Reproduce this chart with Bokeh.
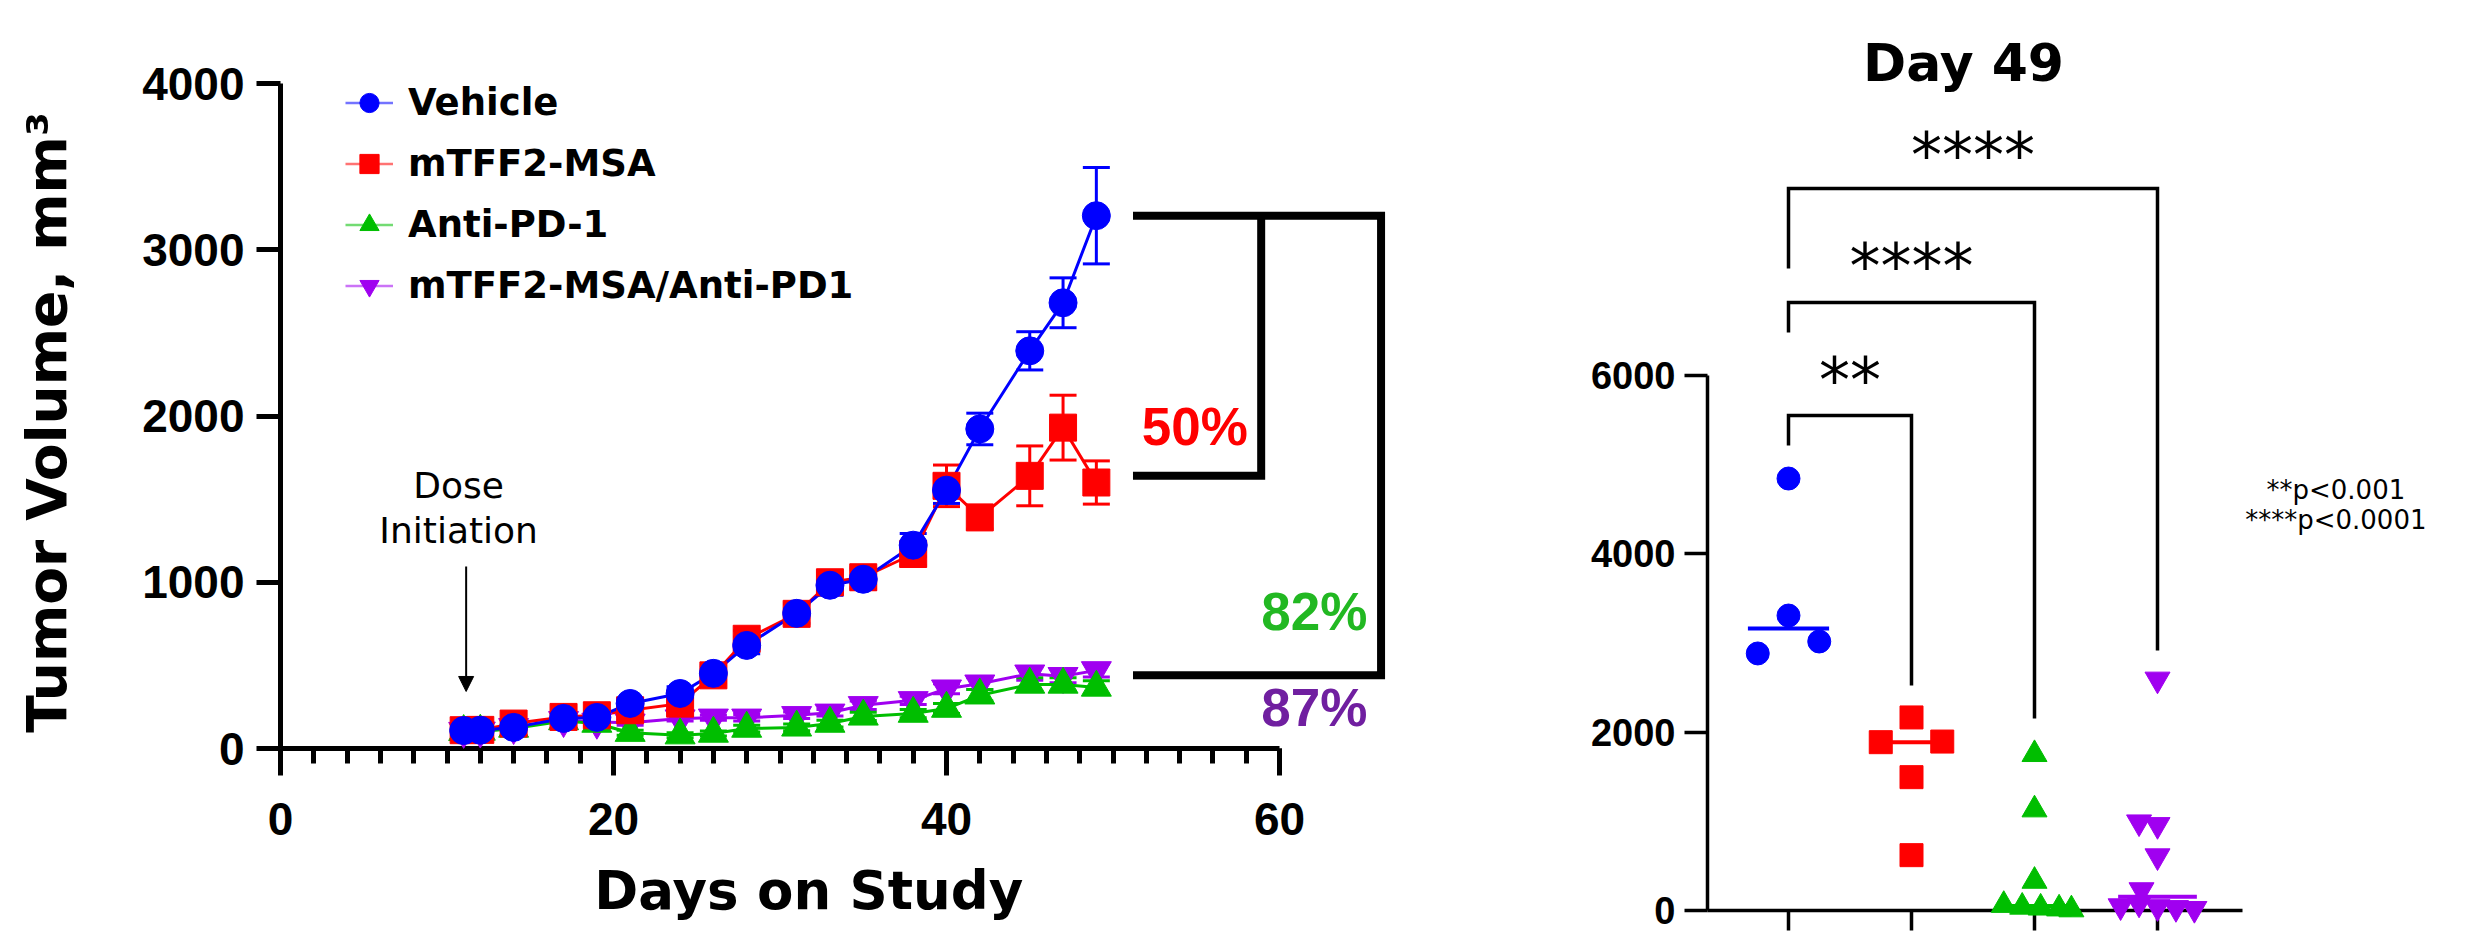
import numpy as np
from bokeh.plotting import figure
from bokeh.layouts import row
from bokeh.models import (ColumnDataSource, Whisker, TeeHead, Legend, LegendItem, Label,
                          Arrow, NormalHead, SingleIntervalTicker, FixedTicker, Range1d)
from bokeh.embed import file_html
from bokeh.resources import INLINE

# ---------------- data: tumour growth (mean +/- SEM) ----------------
days = [11, 12, 14, 17, 19, 21, 24, 26, 28, 31, 33, 35, 38, 40, 42, 45, 47, 49]
vehicle = [108, 110, 127, 181, 187, 271, 331, 452, 620, 813, 982, 1018, 1223, 1554, 1922, 2392, 2681, 3205]
vehicle_sem = [10, 10, 15, 20, 25, 30, 40, 45, 50, 60, 60, 60, 70, 80, 95, 115, 150, 290]
mtff2 = [110, 112, 150, 190, 200, 230, 270, 440, 660, 810, 1000, 1030, 1170, 1580, 1390, 1640, 1930, 1600]
mtff2_sem = [10, 10, 15, 20, 25, 30, 40, 45, 50, 60, 60, 60, 70, 125, 70, 180, 195, 130]
antipd1 = [100, 102, 120, 165, 150, 95, 80, 90, 120, 127, 150, 193, 210, 240, 320, 385, 385, 367]
antipd1_sem = [8, 8, 10, 15, 15, 15, 15, 15, 20, 20, 20, 25, 25, 30, 35, 40, 40, 40]
combo = [105, 107, 128, 170, 160, 155, 180, 185, 185, 200, 215, 260, 290, 360, 390, 450, 435, 470]
combo_sem = [8, 8, 10, 15, 15, 15, 15, 15, 20, 20, 20, 25, 25, 30, 35, 40, 40, 40]
series_names = ["Vehicle", "mTFF2-MSA", "Anti-PD-1", "mTFF2-MSA/Anti-PD1"]
reduction_labels = ["50%", "82%", "87%"]
dose_day = 11.15

# ---------------- data: day 49 individual tumours ----------------
d49_vehicle = [4840, 3305, 3014, 2880]
d49_mtff2 = [2163, 1893, 1886, 1494, 620]
d49_antipd1 = [1750, 1130, 330, 60, 40, 30, 20, 10]
d49_combo = [2590, 990, 960, 610, 230, 80, 50, 40, 30, 20]
# horizontal scatter of the dots around each group
d49_vehicle_dx = [0, 0, 0.25, -0.25]
d49_mtff2_dx = [0, 0.25, -0.25, 0, 0]
d49_antipd1_dx = [0, 0, 0, -0.25, -0.1, 0.05, 0.2, 0.3]
d49_combo_dx = [0, -0.15, 0, 0, -0.13, -0.15, -0.3, 0, 0.15, 0.3]
stars = ["**", "****", "****"]
pvalue_notes = ["**p<0.001", "****p<0.0001"]

BLUE, RED, GREEN, PURPLE = "#0000FF", "#FF0000", "#00BE00", "#A000F0"
GREEN_TXT, PURPLE_TXT = "#22B822", "#701FA0"
BOLD_NUM = "Liberation Sans"
VERD = "DejaVu Sans"
NB = "\u00a0"

# ================= left panel =================
H = 940
L_W, L_LEFT, L_TOP, L_BOTTOM, L_FW = 1500, 280, 0, 748, 1112
DX, DY = 16.65, 0.16625
L_FH = L_BOTTOM - L_TOP

p = figure(width=L_W, height=H, frame_width=L_FW, frame_height=L_FH,
           x_range=Range1d(0, L_FW / DX), y_range=Range1d(0, L_FH / DY),
           min_border_left=L_LEFT, min_border_right=L_W - L_LEFT - L_FW,
           min_border_top=L_TOP, min_border_bottom=H - L_BOTTOM,
           toolbar_location=None, output_backend="svg", title=None)
p.xgrid.visible = False
p.ygrid.visible = False
p.outline_line_color = None

xa = p.xaxis[0]
xa.ticker = SingleIntervalTicker(interval=20, num_minor_ticks=10)
xa.bounds = (0, 60)
ya = p.yaxis[0]
ya.ticker = SingleIntervalTicker(interval=1000, num_minor_ticks=0)
ya.bounds = (0, 4000)
for ax, tout in ((xa, 27), (ya, 24)):
    ax.axis_line_width = 5
    ax.axis_line_color = "black"
    ax.major_tick_line_width = 5
    ax.minor_tick_line_width = 5
    ax.major_tick_out = tout
    ax.major_tick_in = 0
    ax.minor_tick_in = 0
    ax.major_label_text_font = BOLD_NUM
    ax.major_label_text_font_style = "bold"
    ax.major_label_text_font_size = "46px"
    ax.major_label_text_color = "black"
    ax.axis_label_text_font = VERD
    ax.axis_label_text_font_style = "bold"
    ax.axis_label_text_color = "black"
xa.axis_label_text_font_size = "53px"
ya.axis_label_text_font_size = "55px"
xa.minor_tick_out = 15
xa.major_label_standoff = 27
xa.axis_label = "Days on Study" + NB * 3
xa.axis_label_standoff = 22
ya.minor_tick_out = 0
ya.major_label_standoff = 12
ya.axis_label = "Tumor Volume, mm\u00b3" + NB * 5
ya.axis_label_standoff = 60

series = [
    (series_names[3], combo, combo_sem, PURPLE, "inverted_triangle", 30),
    (series_names[2], antipd1, antipd1_sem, GREEN, "triangle", 30),
    (series_names[1], mtff2, mtff2_sem, RED, "square", 27),
    (series_names[0], vehicle, vehicle_sem, BLUE, "circle", 28),
]
for name, vals, sem, col, mk, sz in series:
    v = np.array(vals, float)
    e = np.array(sem, float)
    src = ColumnDataSource(dict(x=days, y=v, upper=v + e, lower=v - e))
    p.add_layout(Whisker(source=src, base="x", upper="upper", lower="lower",
                         line_color=col, line_width=3,
                         upper_head=TeeHead(size=27, line_color=col, line_width=3),
                         lower_head=TeeHead(size=27, line_color=col, line_width=3)))
    p.line("x", "y", source=src, line_color=col, line_width=3)
    p.scatter("x", "y", source=src, marker=mk, size=sz, fill_color=col,
              line_color=col, level="overlay")

# legend (own small swatches)
items = []
for name, vals, sem, col, mk, sz in series[::-1]:
    rl = p.line(x=[np.nan], y=[np.nan], line_color=col, line_width=2.5, line_alpha=0.55)
    rm = p.scatter(x=[np.nan], y=[np.nan], marker=mk, size=22, fill_color=col, line_color=col)
    items.append(LegendItem(label=name, renderers=[rl, rm]))
legend = Legend(items=items, location=(65, 432), glyph_width=48, glyph_height=61,
                label_height=61, label_standoff=15, spacing=0, padding=0, margin=0,
                border_line_color=None, background_fill_alpha=0,
                label_text_font=VERD, label_text_font_style="bold",
                label_text_font_size="37px", label_text_color="black")
p.add_layout(legend)

# reduction brackets
top_v, mid_v, bot_v = vehicle[-1], mtff2[-1] + 40, combo[-1] - 30
bx0, bx1, bx2 = 51.2, 58.9, 66.1
p.multi_line(xs=[[bx0, bx2, bx2, bx0], [bx1, bx1, bx0]],
             ys=[[top_v, top_v, bot_v, bot_v], [top_v, mid_v, mid_v]],
             line_color="black", line_width=8, line_join="miter")
p.add_layout(Label(x=58.1, y=1762, text=reduction_labels[0], text_align="right",
                   text_font=BOLD_NUM, text_font_style="bold", text_font_size="53px",
                   text_color=RED))
p.add_layout(Label(x=58.9, y=644, text=reduction_labels[1], text_align="left",
                   text_font=BOLD_NUM, text_font_style="bold", text_font_size="53px",
                   text_color=GREEN_TXT))
p.add_layout(Label(x=58.9, y=72, text=reduction_labels[2], text_align="left",
                   text_font=BOLD_NUM, text_font_style="bold", text_font_size="53px",
                   text_color=PURPLE_TXT))

# dose initiation annotation
p.add_layout(Label(x=10.7, y=1456, text="Dose", text_align="center",
                   text_font=VERD, text_font_size="36px", text_color="black"))
p.add_layout(Label(x=10.7, y=1187, text="Initiation", text_align="center",
                   text_font=VERD, text_font_size="36px", text_color="black"))
p.add_layout(Arrow(x_start=dose_day, y_start=1095, x_end=dose_day, y_end=343,
                   line_width=2, line_color="black",
                   end=NormalHead(size=15, fill_color="black", line_color="black")))

# ================= right panel =================
R_W, R_LEFT, R_FW, R_BOTTOM = 974, 207, 757, 910
RDX, RDY = 123.0, 0.08925
rx0 = 1 - 81 / RDX

q = figure(width=R_W, height=H, frame_width=R_FW, frame_height=R_BOTTOM,
           x_range=Range1d(rx0, rx0 + R_FW / RDX), y_range=Range1d(0, R_BOTTOM / RDY),
           min_border_left=R_LEFT, min_border_right=R_W - R_LEFT - R_FW,
           min_border_top=0, min_border_bottom=H - R_BOTTOM,
           toolbar_location=None, output_backend="svg", title=None)
q.xgrid.visible = False
q.ygrid.visible = False
q.outline_line_color = None

qx = q.xaxis[0]
qx.ticker = FixedTicker(ticks=[1, 2, 3, 4])
qx.bounds = (rx0, 4.691)
qx.major_label_overrides = {1: "", 2: "", 3: "", 4: ""}
qx.major_label_standoff = 0
qx.major_tick_out = 20
qy = q.yaxis[0]
qy.ticker = SingleIntervalTicker(interval=2000, num_minor_ticks=0)
qy.bounds = (0, 6000)
qy.major_tick_out = 23
qy.major_label_standoff = 9
qy.major_label_text_font = BOLD_NUM
qy.major_label_text_font_style = "bold"
qy.major_label_text_font_size = "38px"
qy.major_label_text_color = "black"
for ax in (qx, qy):
    ax.axis_line_width = 3.5
    ax.major_tick_line_width = 3.5
    ax.major_tick_in = 0
    ax.minor_tick_out = 0
    ax.minor_tick_in = 0

groups = [
    (1, d49_vehicle, d49_vehicle_dx, BLUE, "circle", 23, 0.33),
    (2, d49_mtff2, d49_mtff2_dx, RED, "square", 23, 0.25),
    (3, d49_antipd1, d49_antipd1_dx, GREEN, "triangle", 25, 0.30),
    (4, d49_combo, d49_combo_dx, PURPLE, "inverted_triangle", 25, 0.32),
]
for pos, vals, dxs, col, mk, sz, hw in groups:
    xs = [pos + d for d in dxs]
    q.scatter(x=xs, y=vals, marker=mk, size=sz, fill_color=col, line_color=col,
              level="overlay")
    med = float(np.median(vals))
    q.segment(x0=[pos - hw], x1=[pos + hw], y0=[med], y1=[med], line_color=col,
              line_width=4, level="overlay")

# significance brackets
q.multi_line(xs=[[1, 1, 2, 2], [1, 1, 3, 3], [1, 1, 4, 4]],
             ys=[[5210, 5546, 5546, 2521], [6476, 6812, 6812, 2151], [7193, 8090, 8090, 2913]],
             line_color="black", line_width=3.5, line_join="miter")
for sx, sy, st in ((1.5, 5524, stars[0]), (2.0, 6802, stars[1]), (2.5, 8045, stars[2])):
    q.add_layout(Label(x=sx, y=sy, text=st, text_align="center", text_font=VERD,
                       text_font_size="62px", text_color="black"))
q.add_layout(Label(x=2.423, y=9165, text="Day 49", text_align="center", text_font=VERD,
                   text_font_style="bold", text_font_size="52px", text_color="black"))
q.add_layout(Label(x=5.45, y=4549, text=pvalue_notes[0], text_align="center",
                   text_font=VERD, text_font_size="26px", text_color="black"))
q.add_layout(Label(x=5.45, y=4202, text=pvalue_notes[1], text_align="center",
                   text_font=VERD, text_font_size="26px", text_color="black"))

layout = row(p, q, spacing=0)
open("out.html", "w").write(file_html(layout, INLINE))
